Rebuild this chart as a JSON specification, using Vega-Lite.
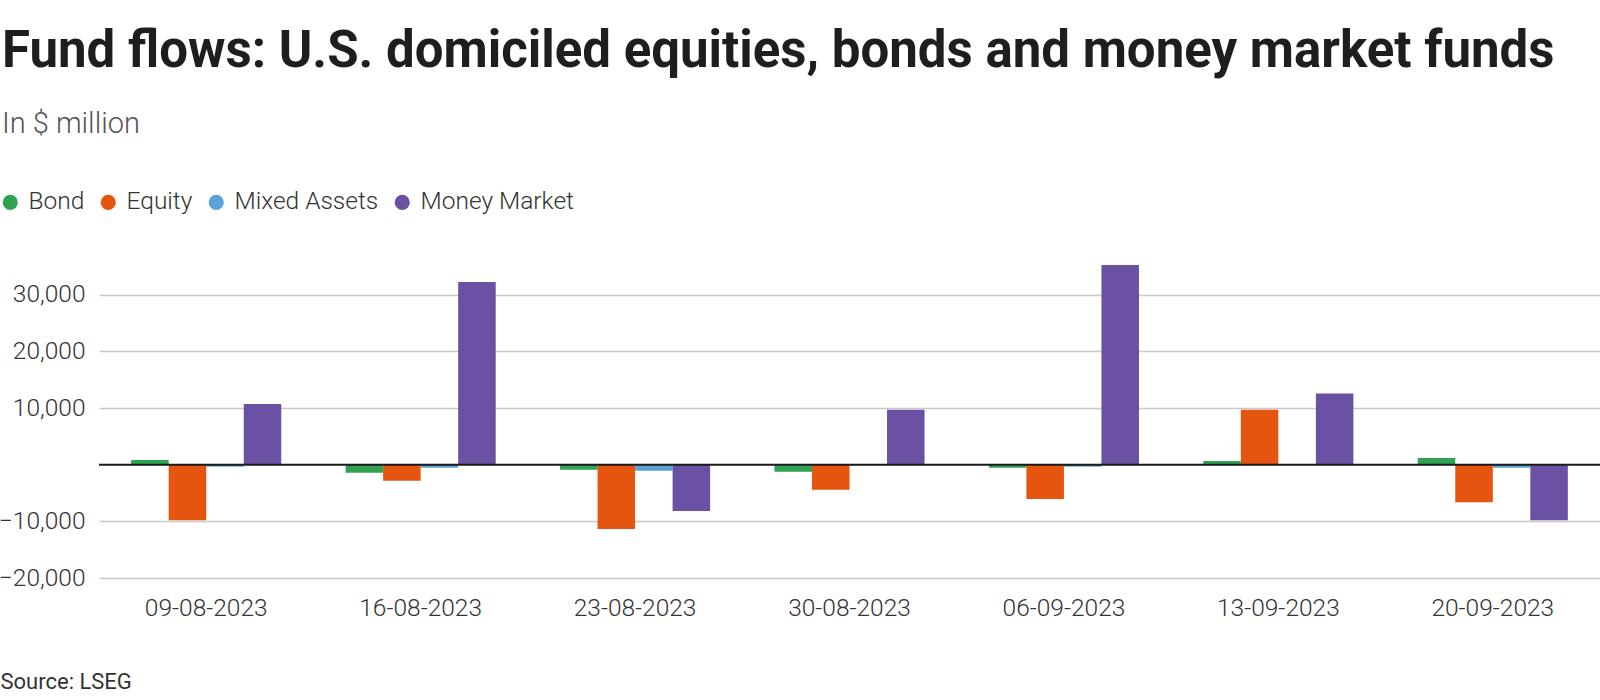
{
  "$schema": "https://vega.github.io/schema/vega-lite/v6.json",
  "width": 1501,
  "height": 323,
  "autosize": {"type": "none"},
  "padding": {"left": 99, "top": 255, "right": 0, "bottom": 122},
  "background": "white",
  "config": {"view": {"stroke": null}, "font": "Roboto"},
  "title": {
    "text": "Fund flows: U.S. domiciled equities, bonds and money market funds",
    "subtitle": "In $ million",
    "anchor": "start",
    "frame": "group",
    "dx": -97,
    "offset": 50,
    "font": "Roboto",
    "fontSize": 51,
    "fontWeight": 700,
    "color": "#1e1e1e",
    "subtitleFont": "Roboto",
    "subtitleFontSize": 29,
    "subtitleFontWeight": 300,
    "subtitleColor": "#555555",
    "subtitlePadding": 32
  },
  "data": {
    "values": [
      {"week": "09-08-2023", "series": "Bond", "value": 830},
      {"week": "09-08-2023", "series": "Equity", "value": -9800},
      {"week": "09-08-2023", "series": "Mixed Assets", "value": -350},
      {"week": "09-08-2023", "series": "Money Market", "value": 10700},
      {"week": "16-08-2023", "series": "Bond", "value": -1420},
      {"week": "16-08-2023", "series": "Equity", "value": -2840},
      {"week": "16-08-2023", "series": "Mixed Assets", "value": -530},
      {"week": "16-08-2023", "series": "Money Market", "value": 32240},
      {"week": "23-08-2023", "series": "Bond", "value": -890},
      {"week": "23-08-2023", "series": "Equity", "value": -11360},
      {"week": "23-08-2023", "series": "Mixed Assets", "value": -1070},
      {"week": "23-08-2023", "series": "Money Market", "value": -8170},
      {"week": "30-08-2023", "series": "Bond", "value": -1240},
      {"week": "30-08-2023", "series": "Equity", "value": -4440},
      {"week": "30-08-2023", "series": "Mixed Assets", "value": -100},
      {"week": "30-08-2023", "series": "Money Market", "value": 9700},
      {"week": "06-09-2023", "series": "Bond", "value": -530},
      {"week": "06-09-2023", "series": "Equity", "value": -6040},
      {"week": "06-09-2023", "series": "Mixed Assets", "value": -350},
      {"week": "06-09-2023", "series": "Money Market", "value": 35240},
      {"week": "13-09-2023", "series": "Bond", "value": 650},
      {"week": "13-09-2023", "series": "Equity", "value": 9700},
      {"week": "13-09-2023", "series": "Mixed Assets", "value": 100},
      {"week": "13-09-2023", "series": "Money Market", "value": 12540},
      {"week": "20-09-2023", "series": "Bond", "value": 1180},
      {"week": "20-09-2023", "series": "Equity", "value": -6630},
      {"week": "20-09-2023", "series": "Mixed Assets", "value": -530},
      {"week": "20-09-2023", "series": "Money Market", "value": -9820}
    ]
  },
  "layer": [
    {
      "mark": {"type": "bar"},
      "encoding": {
        "x": {
          "field": "week",
          "type": "nominal",
          "sort": null,
          "scale": {"paddingInner": 0.3, "paddingOuter": 0.15},
          "axis": {
            "title": "Source: LSEG",
            "titleAnchor": "start",
            "titleAlign": "left",
            "titleX": -99,
            "titleY": 110,
            "titleBaseline": "alphabetic",
            "titleFont": "Roboto",
            "titleFontSize": 22,
            "titleFontWeight": 400,
            "titleColor": "#333333",
            "labelAngle": 0,
            "domain": false,
            "ticks": false,
            "grid": false,
            "labelPadding": 18,
            "labelFont": "Roboto",
            "labelFontSize": 24.5,
            "labelFontWeight": 300,
            "labelColor": "#333333"
          }
        },
        "xOffset": {
          "field": "series",
          "type": "nominal",
          "sort": ["Bond", "Equity", "Mixed Assets", "Money Market"],
          "scale": {"paddingInner": 0, "paddingOuter": 0}
        },
        "y": {
          "field": "value",
          "type": "quantitative",
          "scale": {"domain": [-20000, 37000], "nice": false, "zero": false},
          "axis": {
            "title": null,
            "values": [-20000, -10000, 10000, 20000, 30000],
            "format": ",d",
            "domain": false,
            "ticks": false,
            "labelPadding": 14,
            "labelFont": "Roboto",
            "labelFontSize": 24.5,
            "labelFontWeight": 300,
            "labelColor": "#333333",
            "gridColor": "#c8c8c8",
            "gridWidth": 1.3
          }
        },
        "color": {
          "field": "series",
          "type": "nominal",
          "sort": ["Bond", "Equity", "Mixed Assets", "Money Market"],
          "scale": {
            "domain": ["Bond", "Equity", "Mixed Assets", "Money Market"],
            "range": ["#2fa352", "#e5550f", "#5ba2d6", "#6a51a3"]
          },
          "legend": {
            "orient": "none",
            "legendX": -101,
            "legendY": -65,
            "direction": "horizontal",
            "title": null,
            "symbolType": "circle",
            "symbolSize": 230,
            "symbolStrokeWidth": 0,
            "symbolOpacity": 1,
            "labelFont": "Roboto",
            "labelFontSize": 24.5,
            "labelFontWeight": 300,
            "labelColor": "#333333",
            "labelOffset": 6,
            "columnPadding": 11
          }
        }
      }
    },
    {
      "data": {"values": [{}]},
      "mark": {"type": "rule", "color": "#1a1a1a", "strokeWidth": 2},
      "encoding": {"y": {"datum": 0}}
    }
  ]
}
